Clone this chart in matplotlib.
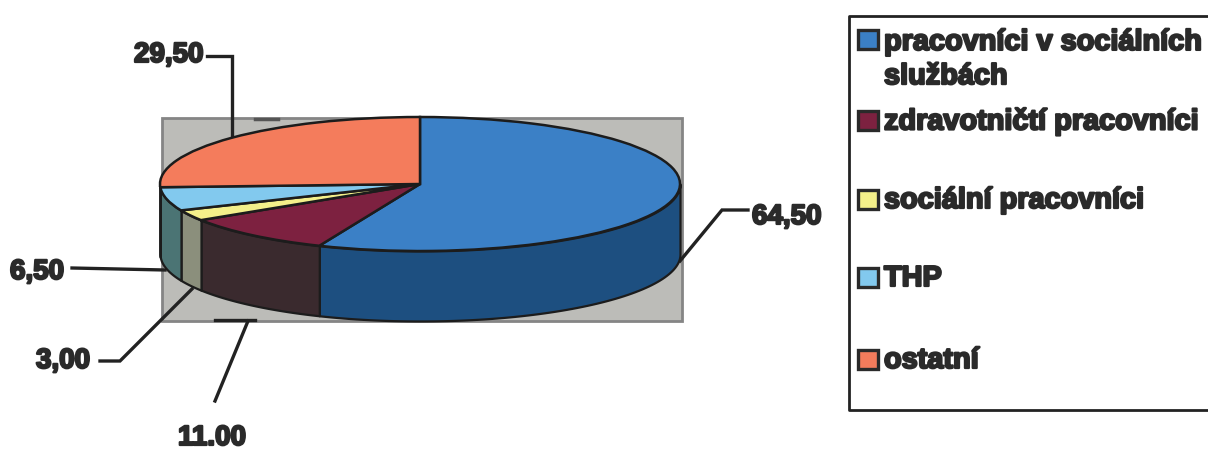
import numpy as np
import matplotlib
matplotlib.use("Agg")
import matplotlib.pyplot as plt
import matplotlib.patheffects as pe
from matplotlib.patches import Rectangle

categories = ["pracovníci v sociálních\nslužbách", "zdravotničtí pracovníci",
              "sociální pracovníci", "THP", "ostatní"]
values = [64.5, 11.0, 3.0, 6.5, 29.5]
value_labels = ["64,50", "11.00", "3,00", "6,50", "29,50"]
top_colors = ["#3b80c6", "#7d2140", "#f4f08a", "#82c9ee", "#f47c5c"]
wall_colors = ["#1d4f80", "#3a2a2e", "#8b8f7c", "#4b7474", "#a0503c"]

W, H = 1208, 452
PX, PY0, PX1, PY1 = 160, 118, 680, 252
DEPTH = 70 / 67

plt.rcParams['font.family'] = ['Liberation Sans', 'DejaVu Sans']
fig = plt.figure(figsize=(W / 100, H / 100), dpi=100, facecolor="white")

bg = fig.add_axes([0, 0, 1, 1])
bg.set_xlim(0, W)
bg.set_ylim(H, 0)
bg.axis("off")

bg.add_patch(Rectangle((162, 119), 520, 203, fc="#bcbcb8", ec="#858585", lw=2))
bg.plot([255, 278], [120, 120], color="#555555", lw=2.5)

leaders = [
    ([207, 232, 232], [57, 57, 138]),
    ([748, 722, 680], [211, 211, 262]),
    ([72, 165], [269, 271]),
    ([100, 120, 192], [362, 362, 290]),
    ([215, 248], [402, 322]),
    ([215, 255], [321, 321]),
]
for xs, ys in leaders:
    bg.plot(xs, ys, color="#222222", lw=2.4, solid_joinstyle="miter")

heavy = [pe.withStroke(linewidth=1.6, foreground="#2a2a2a")]
label_pos = {"64,50": (752, 218), "11.00": (178, 439), "3,00": (36, 362),
             "6,50": (10, 273), "29,50": (134, 56)}
for lab in value_labels:
    x, y = label_pos[lab]
    bg.text(x, y, lab, fontsize=20, fontweight="bold", color="#2a2a2a",
            va="center", ha="left", path_effects=heavy)

# legend frame
bg.plot([1210, 849, 849, 1210], [17, 17, 411, 411], color="#222222", lw=2)
leg_y = [40, 121, 200, 278, 360]
for cat, col, y in zip(categories, top_colors, leg_y):
    bg.add_patch(Rectangle((858, y - 9), 20, 19, fc=col, ec="#2a2a2a", lw=2.4))
    bg.text(884, y + (20 if "\n" in cat else 1), cat, fontsize=20.8, fontweight="bold",
            color="#2a2a2a", va="center", ha="left", linespacing=1.28, path_effects=heavy)

# pie
ax = fig.add_axes([PX / W, 1 - PY1 / H, (PX1 - PX) / W, (PY1 - PY0) / H])
ax.patch.set_alpha(0)
total = sum(values)
cur = 90.0
for v, wc in zip(values, wall_colors):
    a0 = cur - v / total * 360
    a1 = cur
    cur = a0
    for shift in (0, -360):
        l, h = max(a0, -180 + shift), min(a1, 0 + shift)
        if h > l:
            th = np.radians(np.linspace(l, h, 80))
            x, y = np.cos(th), np.sin(th)
            ax.fill_between(x, y, y - DEPTH, color=wc, ec="#1c1c1c", lw=1.6, clip_on=False, zorder=1)
ax.pie(values, colors=top_colors, startangle=90, counterclock=False, radius=1,
       wedgeprops=dict(ec="#1c1c1c", lw=1.8, clip_on=False, zorder=2))
ax.set_aspect("auto")
ax.set_xlim(-1, 1)
ax.set_ylim(-1, 1)
ax.axis("off")

fig.savefig("out.png", dpi=100)
